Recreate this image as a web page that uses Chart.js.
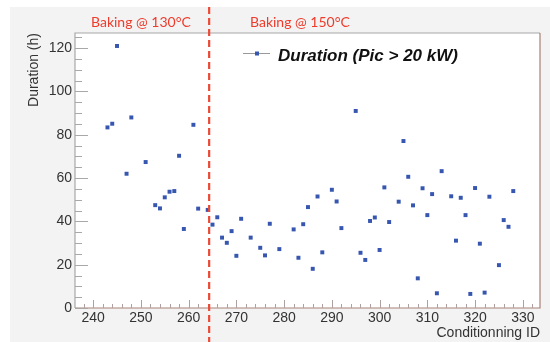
<!DOCTYPE html>
<html>
<head>
<meta charset="utf-8">
<script src="https://cdn.jsdelivr.net/npm/chart.js@4/dist/chart.umd.min.js"></script>
<style>
  html, body { margin: 0; padding: 0; background: #fff; }
  #wrap { width: 550px; height: 342px; }
</style>
</head>
<body>
<div id="wrap"><canvas id="grafico" width="550" height="342"></canvas></div>
<script>
// Conditionning IDs and durations (h)
const ids = [243, 244, 245, 247, 248, 251, 253, 254, 255, 256, 257, 258, 259, 261, 262,
             264, 265, 266, 267, 268, 269, 270, 271, 273, 275, 276, 277, 279, 282, 283,
             284, 285, 286, 287, 288, 290, 291, 292, 295, 296, 297, 298, 299, 300, 301,
             302, 304, 305, 306, 307, 308, 309, 310, 311, 312, 313, 315, 316, 317, 318,
             319, 320, 321, 322, 323, 325, 326, 327, 328];
const durations = [83.4, 85.1, 121, 62, 88, 67.4, 47.5, 46, 51.1, 53.7, 54, 70.3, 36.5, 84.6, 45.9,
                   45.3, 38.5, 41.9, 32.5, 30.1, 35.5, 24.1, 41.2, 32.5, 27.8, 24.3, 38.9, 27.2, 36.3, 23.2,
                   38.7, 46.6, 18.1, 51.5, 25.7, 54.6, 49.2, 36.9, 91, 25.5, 22.2, 40.2, 41.8, 26.8, 55.7,
                   39.7, 49.1, 77.1, 60.6, 47.4, 13.7, 55.3, 42.9, 52.6, 6.8, 63.2, 51.6, 31.1, 50.9, 42.9,
                   6.5, 55.4, 29.7, 7.1, 51.4, 19.8, 40.6, 37.5, 54.0];

const xTicks = [240, 250, 260, 270, 280, 290, 300, 310, 320, 330];
const yTicks = [0, 20, 40, 60, 80, 100, 120];
const xRange = [236.2, 333.6];
const yRange = [0, 127];

const bakingChange = 264.3;
const leyenda = 'Duration (Pic > 20 kW)';
const zonas = ['Baking @ 130°C', 'Baking @ 150°C'];

const puntos = ids.map((id, i) => ({ x: id, y: durations[i] }));

// Dibujo de fondo, marco, ticks internos y textos (estilo ROOT)
const decoracion = {
    id: 'decoracion',
    beforeDraw(chart) {
        const { ctx, chartArea: a, width, height } = chart;
        ctx.save();
        ctx.fillStyle = '#ffffff';
        ctx.fillRect(0, 0, width, height);
        ctx.fillStyle = '#f3f3f3';
        ctx.fillRect(10, 7, width - 10, height - 7);
        ctx.fillStyle = '#ffffff';
        ctx.fillRect(a.left, a.top, a.right - a.left, a.bottom - a.top);
        ctx.restore();
    },
    afterDatasetsDraw(chart) {
        const { ctx, chartArea: a, scales } = chart;
        const sx = scales.x, sy = scales.y;
        ctx.save();

        // marco
        ctx.lineWidth = 1.2;
        ctx.strokeStyle = '#a8a8a8';
        ctx.beginPath();
        ctx.moveTo(a.left, a.bottom); ctx.lineTo(a.left, a.top); ctx.lineTo(a.right, a.top);
        ctx.stroke();
        ctx.strokeStyle = '#a98278';
        ctx.beginPath();
        ctx.moveTo(a.left, a.bottom); ctx.lineTo(a.right, a.bottom); ctx.lineTo(a.right, a.top);
        ctx.stroke();

        // ticks del eje Y
        ctx.strokeStyle = '#a8a8a8';
        ctx.lineWidth = 1;
        for (let v = 0; v <= yRange[1]; v += 5) {
            const py = Math.round(sy.getPixelForValue(v)) + 0.5;
            const len = v % 20 === 0 ? 13 : 7;
            ctx.beginPath();
            ctx.moveTo(a.left, py); ctx.lineTo(a.left + len, py);
            ctx.stroke();
        }
        // ticks del eje X
        ctx.strokeStyle = '#b0a0a0';
        for (let v = 238; v <= xRange[1]; v += 2) {
            const px = Math.round(sx.getPixelForValue(v)) + 0.5;
            const len = v % 10 === 0 ? 8 : 4;
            ctx.beginPath();
            ctx.moveTo(px, a.bottom); ctx.lineTo(px, a.bottom - len);
            ctx.stroke();
        }

        // linea de cambio de horneado
        const lx = sx.getPixelForValue(bakingChange);
        ctx.strokeStyle = '#ec4a35';
        ctx.lineWidth = 2.2;
        ctx.setLineDash([7, 4]);
        ctx.beginPath();
        ctx.moveTo(lx, 7); ctx.lineTo(lx, chart.height);
        ctx.stroke();
        ctx.setLineDash([]);

        // etiquetas de zonas
        ctx.fillStyle = '#ee3b2b';
        ctx.font = '14px Lato';
        ctx.textBaseline = 'middle';
        ctx.textAlign = 'left';
        ctx.fillText(zonas[0], 91, 22);
        ctx.fillText(zonas[1], 250, 22);

        // leyenda
        ctx.strokeStyle = '#999999';
        ctx.lineWidth = 1;
        ctx.beginPath();
        ctx.moveTo(243, 53.5); ctx.lineTo(270, 53.5);
        ctx.stroke();
        ctx.fillStyle = '#3656b0';
        ctx.fillRect(255, 51.5, 4, 4);
        ctx.fillStyle = '#111111';
        ctx.font = 'italic bold 17px "Liberation Sans"';
        ctx.fillText(leyenda, 278, 56);

        // titulos de ejes
        ctx.fillStyle = '#333333';
        ctx.font = '14px "Liberation Sans"';
        ctx.textAlign = 'right';
        ctx.fillText('Conditionning ID', a.right, 333);
        ctx.translate(34, 70);
        ctx.rotate(-Math.PI / 2);
        ctx.textAlign = 'center';
        ctx.fillText('Duration (h)', 0, 0);

        ctx.restore();
    }
};

const config = {
    type: 'scatter',
    data: {
        datasets: [{
            label: leyenda,
            data: puntos,
            pointStyle: 'rect',
            pointRadius: 2.8,
            pointBorderWidth: 0,
            backgroundColor: '#3656b0',
            borderColor: '#3656b0'
        }]
    },
    options: {
        responsive: false,
        animation: false,
        events: [],
        layout: { padding: { left: 0, top: 33, right: 10, bottom: 0 } },
        plugins: {
            legend: { display: false },
            tooltip: { enabled: false }
        },
        scales: {
            x: {
                type: 'linear',
                min: xRange[0],
                max: xRange[1],
                afterBuildTicks: s => { s.ticks = xTicks.map(v => ({ value: v })); },
                afterFit: s => { s.height = 34; },
                grid: { display: false, drawTicks: false },
                border: { display: false },
                ticks: {
                    padding: 2,
                    color: '#333333',
                    font: { family: 'Liberation Sans', size: 14 },
                    maxRotation: 0,
                    autoSkip: false
                }
            },
            y: {
                min: yRange[0],
                max: yRange[1],
                afterBuildTicks: s => { s.ticks = yTicks.map(v => ({ value: v })); },
                afterFit: s => { s.width = 75; },
                grid: { display: false, drawTicks: false },
                border: { display: false },
                ticks: {
                    padding: 3,
                    color: '#333333',
                    font: { family: 'Liberation Sans', size: 14 }
                }
            }
        }
    },
    plugins: [decoracion]
};

const ctx = document.getElementById('grafico').getContext('2d');
new Chart(ctx, config);
</script>
</body>
</html>
